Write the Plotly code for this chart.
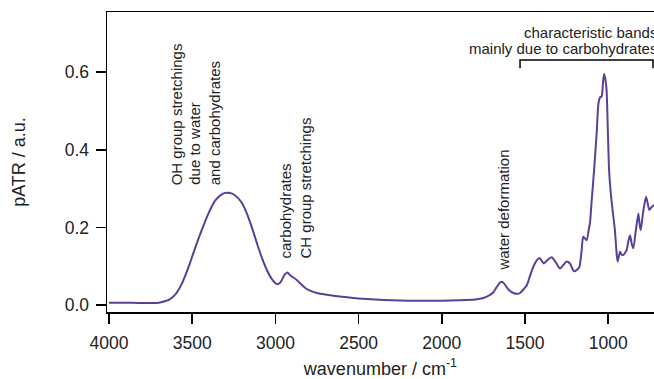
import plotly.graph_objects as go

# ---- data ----
wavenumber = [4000, 3900, 3800, 3700, 3680, 3640, 3600, 3560, 3520, 3480, 3440, 3400,
              3360, 3320, 3293, 3260, 3230, 3200, 3170, 3140, 3110, 3080, 3050, 3020,
              2992, 2975, 2962, 2945, 2928, 2910, 2892, 2870, 2852, 2820, 2792, 2750, 2700,
              2600, 2500, 2400, 2300, 2200, 2100, 2000, 1900, 1800, 1750, 1710, 1690, 1670,
              1650, 1640, 1625, 1600, 1570, 1545, 1530, 1510, 1490, 1470, 1450, 1430, 1414,
              1400, 1386, 1365, 1340, 1315, 1290, 1270, 1250, 1230, 1206, 1190, 1174, 1160,
              1150, 1130, 1115, 1110, 1100, 1085, 1070, 1059, 1049, 1040, 1030, 1024, 1017,
              1010, 1003, 995, 985, 974, 960, 950, 944, 936, 929, 920, 909, 899, 889, 879,
              869, 859, 849, 835, 819, 812, 805, 790, 773, 763, 753, 740, 725]
absorbance = [0.006, 0.006, 0.005, 0.006, 0.008, 0.013, 0.028, 0.057, 0.100, 0.150, 0.196, 0.238,
              0.270, 0.286, 0.289, 0.287, 0.278, 0.262, 0.234, 0.198, 0.158, 0.120, 0.089, 0.066,
              0.054, 0.056, 0.064, 0.078, 0.084, 0.076, 0.071, 0.064, 0.056, 0.044, 0.037, 0.031, 0.027,
              0.021, 0.017, 0.014, 0.012, 0.011, 0.011, 0.011, 0.012, 0.014, 0.018, 0.026, 0.033, 0.046,
              0.058, 0.060, 0.055, 0.040, 0.031, 0.029, 0.031, 0.040, 0.050, 0.075, 0.099, 0.115, 0.121,
              0.114, 0.107, 0.116, 0.123, 0.110, 0.094, 0.103, 0.112, 0.107, 0.087, 0.090, 0.097, 0.140,
              0.176, 0.167, 0.200, 0.210, 0.266, 0.348, 0.440, 0.519, 0.535, 0.537, 0.580, 0.595, 0.580,
              0.554, 0.460, 0.348, 0.290, 0.245, 0.193, 0.135, 0.112, 0.125, 0.137, 0.130, 0.129, 0.134, 0.142, 0.165,
              0.180, 0.158, 0.146, 0.190, 0.236, 0.210, 0.193, 0.240, 0.279, 0.262, 0.245, 0.252, 0.258]

x_ticks = [4000, 3500, 3000, 2500, 2000, 1500, 1000]
y_ticks = [0.0, 0.2, 0.4, 0.6]

FONT = "Liberation Sans, Arial, sans-serif"
LINE_COLOR = "#5b3f96"

fig = go.Figure()
fig.add_trace(go.Scatter(x=wavenumber, y=absorbance, mode="lines",
                         line=dict(color=LINE_COLOR, width=2, shape="spline", smoothing=0.6),
                         showlegend=False, hoverinfo="skip"))

# rotated annotations (one per line)
rot_labels = [
    ("OH group stretchings", 3597, 0.306),
    ("due to water", 3483, 0.306),
    ("and carbohydrates", 3369, 0.306),
    ("carbohydrates", 2942, 0.116),
    ("CH group stretchings", 2822, 0.116),
    ("water deformation", 1632, 0.085),
]
for txt, xv, yv in rot_labels:
    fig.add_annotation(x=xv, y=yv, xref="x", yref="y", text=txt, showarrow=False,
                       textangle=-90, xanchor="center", yanchor="bottom",
                       font=dict(family=FONT, size=15, color="#222"), borderpad=0)

# horizontal annotation (right part clipped by figure edge, as in the reference)
fig.add_annotation(x=1.0075, y=0.9333, xref="paper", yref="paper", text="characteristic bands",
                   showarrow=False, xanchor="right", yanchor="middle",
                   font=dict(family=FONT, size=15, color="#222"), borderpad=0)
fig.add_annotation(x=1.0075, y=0.88, xref="paper", yref="paper", text="mainly due to carbohydrates",
                   showarrow=False, xanchor="right", yanchor="middle",
                   font=dict(family=FONT, size=15, color="#222"), borderpad=0)

# bracket
br_l, br_r, br_top, br_bot = 1530, 731, 0.631, 0.610
fig.add_shape(type="path", xref="x", yref="y",
              path=f"M {br_l} {br_bot} L {br_l} {br_top} L {br_r} {br_top} L {br_r} {br_bot}",
              line=dict(color="black", width=1.5))

fig.update_layout(
    width=654, height=379,
    margin=dict(l=107, r=0, t=12, b=67),
    paper_bgcolor="white", plot_bgcolor="white",
    font=dict(family=FONT, color="#222"),
    hovermode=False,
    xaxis=dict(range=[4012, 725], tickvals=x_ticks, ticks="outside", ticklen=10, tickwidth=1.5,
               tickcolor="black", showline=True, linecolor="black", linewidth=1.5, mirror=True,
               showgrid=False, zeroline=False, tickfont=dict(size=17.5, family=FONT),
               ticklabelstandoff=4,
               title=dict(text="wavenumber / cm<sup>-1</sup>", font=dict(size=18, family=FONT), standoff=12)),
    yaxis=dict(range=[-0.018, 0.755], tickvals=y_ticks, tickformat=".1f", ticks="outside", ticklen=10,
               tickwidth=1.5, tickcolor="black", showline=True, linecolor="black", linewidth=1.5,
               showgrid=False, zeroline=False, tickfont=dict(size=17.5, family=FONT),
               ticklabelstandoff=3,
               title=dict(text="pATR / a.u.", font=dict(size=18, family=FONT), standoff=34)),
)

fig.write_html("out.html",
               config={"displayModeBar": False, "staticPlot": True},
               post_script="document.body.style.margin='0';document.body.style.overflow='hidden';")
